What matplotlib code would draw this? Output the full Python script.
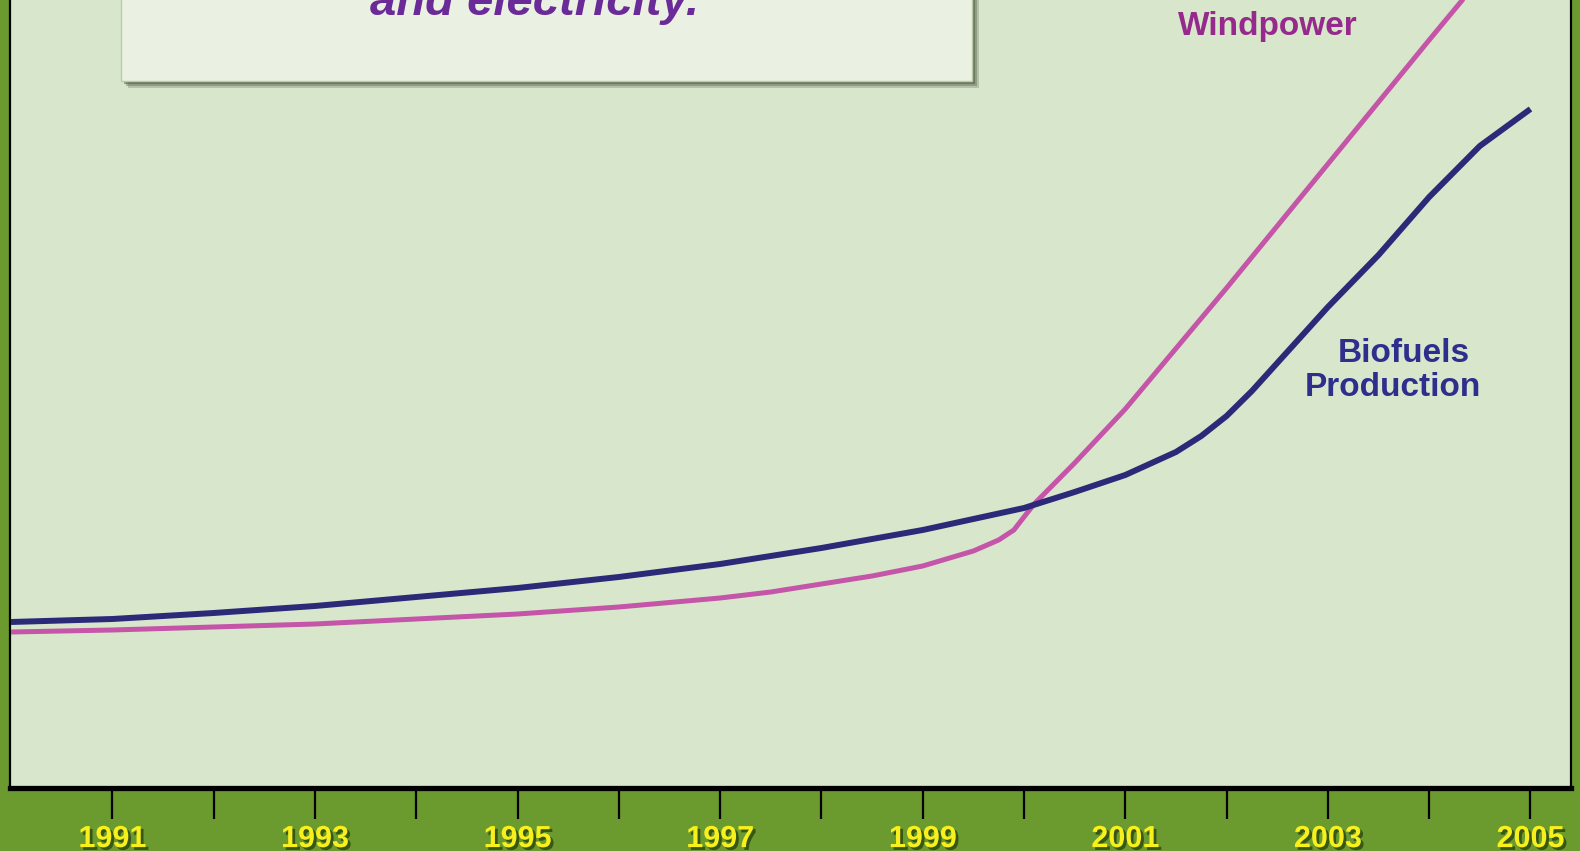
import matplotlib
matplotlib.use('Agg')
import matplotlib.pyplot as plt
import matplotlib.patheffects as pe
from matplotlib.patches import Rectangle

# readings (arbitrary index units)
years_bio = [1990, 1991, 1992, 1993, 1994, 1995, 1996, 1997, 1998, 1999,
             2000, 2000.5, 2001, 2001.5, 2001.75, 2002, 2002.25, 2002.5,
             2003, 2003.5, 2004, 2004.5, 2005]
biofuels = [16.6, 16.9, 17.5, 18.2, 19.1, 20.0, 21.1, 22.4, 24.0, 25.8,
            28.0, 29.6, 31.3, 33.6, 35.2, 37.2, 39.7, 42.5,
            48.1, 53.3, 59.1, 64.2, 67.9]

years_wind = [1990, 1991, 1992, 1993, 1994, 1995, 1996, 1997, 1997.5, 1998,
              1998.5, 1999, 1999.5, 1999.75, 1999.9, 2000, 2000.1, 2000.5,
              2001, 2002, 2003, 2004, 2005]
windpower = [15.6, 15.8, 16.1, 16.4, 16.9, 17.4, 18.1, 19.0, 19.6, 20.4,
             21.2, 22.2, 23.7, 24.8, 25.8, 27.1, 28.4, 32.5,
             37.9, 50.0, 62.4, 74.8, 87.0]

tick_years = list(range(1991, 2006))
label_years = [y for y in tick_years if y % 2 == 1]

outer_green = '#6b9b2f'
plot_bg = '#d8e7cc'
navy = '#2b2a78'
pink = '#c455a8'

W, H = 1580, 851
fig = plt.figure(figsize=(W / 100, H / 100), dpi=100, facecolor=outer_green)
ax = fig.add_axes([10 / W, (H - 788) / H, 1561 / W, 788 / H])
ax.set_facecolor(plot_bg)

ax.plot(years_wind, windpower, color=pink, lw=3.6, solid_joinstyle='round',
        solid_capstyle='butt', zorder=3)
ax.plot(years_bio, biofuels, color=navy, lw=4.3, solid_joinstyle='round',
        solid_capstyle='butt', zorder=4)

ax.set_xlim(1989.99, 2005.40)
ax.set_ylim(0, 78.8)

ax.spines['top'].set_visible(False)
ax.spines['bottom'].set_linewidth(3.8)
ax.spines['left'].set_linewidth(1.6)
ax.spines['right'].set_linewidth(1.6)
for s in ax.spines.values():
    s.set_color('black')

ax.set_yticks([])
ax.set_xticks(tick_years)
ax.set_xticklabels([str(y) if y in label_years else '' for y in tick_years])
ax.tick_params(axis='x', direction='out', length=22, width=1.6, color='black',
               pad=4, labelsize=22, labelcolor='#f7f01c')
shadow = [pe.SimplePatchShadow(offset=(2, -2), shadow_rgbFace='#2f4a10', alpha=0.85),
          pe.Normal()]
for lab in ax.get_xticklabels():
    lab.set_fontfamily('Liberation Sans')
    lab.set_fontweight('bold')
    lab.set_path_effects(shadow)

# series labels
lab_kw = dict(fontsize=24, fontweight='bold', family='Liberation Sans',
              ha='center', va='center')
ax.text(2002.41, 76.1, 'Windpower', color='#962a8c', **lab_kw)
ax.text(2003.75, 43.4, 'Biofuels', color='#2e2e8c', **lab_kw)
ax.text(2003.64, 40.0, 'Production', color='#2e2e8c', **lab_kw)

# title box at the top (cut off by the frame)
bx0, bx1, by1 = 121, 972, 81
for i, a in enumerate([0.25, 0.35, 0.5]):
    off = 7 - 2 * i
    fig.patches.append(Rectangle(((bx0 + off) / W, (H - by1 - off) / H),
                                 (bx1 - bx0) / W, (by1 + 20) / H,
                                 transform=fig.transFigure, facecolor='#4a5640',
                                 edgecolor='none', alpha=a, zorder=5))
fig.patches.append(Rectangle((bx0 / W, (H - by1) / H), (bx1 - bx0) / W, (by1 + 20) / H,
                             transform=fig.transFigure, facecolor='#eaf0e2',
                             edgecolor='#b9cfa0', lw=1.0, zorder=6))
fig.text(535 / W, 1 - 15 / H, 'and electricity.', color='#6a2a98', fontsize=34,
         fontweight='bold', fontstyle='italic', family='Liberation Sans',
         ha='center', va='baseline', zorder=7)

fig.savefig('out.png', dpi=100, facecolor=outer_green)
